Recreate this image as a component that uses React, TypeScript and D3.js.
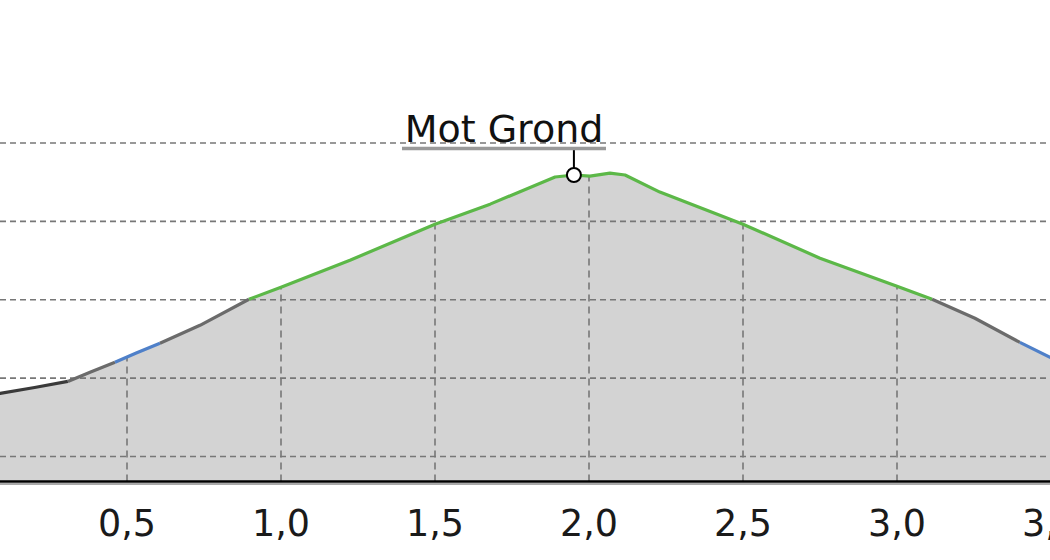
import React from "react";
import * as d3 from "d3";

const distances = [0.0, 0.088, 0.2, 0.308, 0.38, 0.461, 0.53, 0.607, 0.737, 0.896, 1.0, 1.224, 1.5, 1.679, 1.89, 1.951, 2.003, 2.068, 2.117, 2.23, 2.5, 2.75, 3.0, 3.114, 3.253, 3.399, 3.497, 3.6];
const elevations = [2136, 2140.3, 2144, 2147.9, 2153.7, 2160.1, 2166, 2172.2, 2183.7, 2200.3, 2208.0, 2225.2, 2248.2, 2261.0, 2278.3, 2279.6, 2278.9, 2280.8, 2279.6, 2268.7, 2248.2, 2226.5, 2208.6, 2200.3, 2188.2, 2172.8, 2163.3, 2156];

const segStarts = [0.0, 0.308, 0.461, 0.607, 0.896, 3.114, 3.399];
const segEnds = [0.308, 0.461, 0.607, 0.896, 3.114, 3.399, 3.6];
const segColors = ["#3a3a3a", "#6b6b6b", "#4f80c9", "#6b6b6b", "#5cb848", "#6b6b6b", "#4f80c9"];

const xTicks = [0.5, 1.0, 1.5, 2.0, 2.5, 3.0, 3.5];
const yGrid = [2100, 2150, 2200, 2250, 2300];

const peakName = "Mot Grond";
const peakDistance = 1.951;
const peakElevation = 2279.6;

const W = 1050;
const H = 560;
const AXIS_Y = 481.5;

export default function App() {
  const x = d3.scaleLinear().domain([0.5, 3.0]).range([127, 897]);
  const y = d3.scaleLinear().domain([2100, 2300]).range([456.5, 143]);

  const pts: [number, number][] = distances.map((d, i) => [d, elevations[i]]);
  const elevAt = (d: number) => {
    const i = d3.bisector((p: [number, number]) => p[0]).right(pts, d);
    const a = pts[Math.max(0, i - 1)];
    const b = pts[Math.min(pts.length - 1, i)];
    if (a[0] === b[0]) return a[1];
    return a[1] + ((d - a[0]) / (b[0] - a[0])) * (b[1] - a[1]);
  };

  const area = d3
    .area<[number, number]>()
    .x((p) => x(p[0]))
    .y0(AXIS_Y)
    .y1((p) => y(p[1]));
  const line = d3
    .line<[number, number]>()
    .x((p) => x(p[0]))
    .y((p) => y(p[1]));

  const segments = segStarts.map((s, i) => {
    const e = segEnds[i];
    const inner = pts.filter((p) => p[0] > s && p[0] < e);
    const sp: [number, number][] = [[s, elevAt(s)], ...inner, [e, elevAt(e)]];
    return { d: line(sp) as string, color: segColors[i] };
  });

  const fmt = (v: number) => d3.format(".1f")(v).replace(".", ",");

  const px = x(peakDistance);
  const py = y(peakElevation);

  return (
    <svg
      width={W}
      height={H}
      style={{ position: "absolute", left: 0, top: 0, display: "block" }}
      fontFamily="'DejaVu Sans', sans-serif"
    >
      <rect x={0} y={0} width={W} height={H} fill="#ffffff" />
      <path d={area(pts) as string} fill="#d3d3d3" />
      {yGrid.map((v) => (
        <line
          key={"h" + v}
          x1={0}
          x2={W}
          y1={y(v)}
          y2={y(v)}
          stroke="#777777"
          strokeWidth={1.6}
          strokeDasharray="6,4"
        />
      ))}
      {xTicks.map((t) => (
        <line
          key={"v" + t}
          x1={x(t)}
          x2={x(t)}
          y1={AXIS_Y}
          y2={y(elevAt(t))}
          stroke="#777777"
          strokeWidth={1.6}
          strokeDasharray="7,5"
        />
      ))}
      <line x1={0} x2={W} y1={AXIS_Y + 2.5} y2={AXIS_Y + 2.5} stroke="#aaaaaa" strokeWidth={2} />
      <line x1={0} x2={W} y1={AXIS_Y} y2={AXIS_Y} stroke="#000000" strokeWidth={2.5} />
      {segments.map((s, i) => (
        <path key={"s" + i} d={s.d} fill="none" stroke={s.color} strokeWidth={3.2} strokeLinejoin="round" />
      ))}
      {xTicks.map((t) => (
        <text key={"t" + t} x={x(t)} y={536} textAnchor="middle" fontSize={36.5} fill="#1a1a1a">
          {fmt(t)}
        </text>
      ))}
      <line x1={px} x2={px} y1={149} y2={py - 7} stroke="#000" strokeWidth={2} />
      <line x1={402} x2={606} y1={148.5} y2={148.5} stroke="#999999" strokeWidth={3.5} />
      <text x={504} y={142} textAnchor="middle" fontSize={38} fill="#111">
        {peakName}
      </text>
      <circle cx={px} cy={py} r={7} fill="#ffffff" stroke="#000" strokeWidth={2} />
    </svg>
  );
}
